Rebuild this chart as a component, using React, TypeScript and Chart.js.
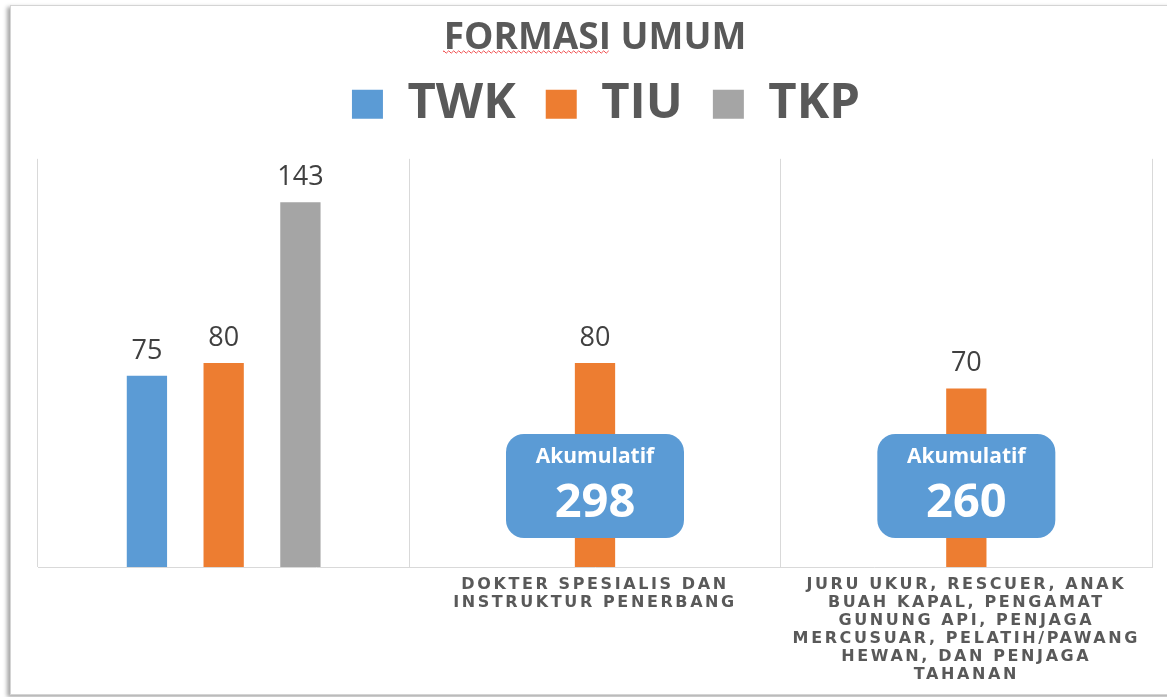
import React, { useEffect, useRef } from 'react';
import { Chart, registerables, CategoryScale } from 'chart.js';

class SpacedCategoryScale extends CategoryScale {
  static id = 'spacedCategory';
  drawLabels(chartArea: any) {
    const ctx = this.ctx as any;
    ctx.save();
    ctx.letterSpacing = '2.6px';
    super.drawLabels(chartArea);
    ctx.restore();
  }
}

Chart.register(...registerables, SpacedCategoryScale);

// ---- data ----
const chartTitle = 'FORMASI UMUM';
const categories: string[][] = [
  [''],
  ['DOKTER SPESIALIS DAN', 'INSTRUKTUR PENERBANG'],
  [
    'JURU UKUR, RESCUER, ANAK',
    'BUAH KAPAL, PENGAMAT',
    'GUNUNG API, PENJAGA',
    'MERCUSUAR, PELATIH/PAWANG',
    'HEWAN, DAN PENJAGA',
    'TAHANAN',
  ],
];
const seriesNames = ['TWK', 'TIU', 'TKP'];
const twkValues = [75, null, null];
const tiuValues = [80, 80, 70];
const tkpValues = [143, null, null];
const akumulatifValues = [null, 298, 260];
const akumulatifText = 'Akumulatif';
const yMin = 0;
const yMax = 160;

const COLORS = ['#5B9BD5', '#ED7D31', '#A5A5A5'];

const legendSpacing = {
  id: 'legendSpacing',
  beforeInit(chart: any) {
    const legend = chart.legend;
    if (!legend) return;
    const fit = legend.fit;
    legend.fit = function () {
      fit.call(this);
      this.height += 20;
      if (this.lineWidths && this.lineWidths.length) this.lineWidths[0] -= 22;
    };
  },
};

const barValueLabels = {
  id: 'barValueLabels',
  afterDatasetsDraw(chart: any) {
    const ctx = chart.ctx;
    ctx.save();
    ctx.font = '27px "Open Sans"';
    ctx.fillStyle = '#404040';
    ctx.textAlign = 'center';
    ctx.textBaseline = 'alphabetic';
    chart.data.datasets.forEach((ds: any, i: number) => {
      const meta = chart.getDatasetMeta(i);
      meta.data.forEach((el: any, j: number) => {
        const v = ds.data[j];
        if (v === null || v === undefined) return;
        ctx.fillText(String(v), el.x, el.y - 17);
      });
    });
    ctx.restore();
  },
};

const akumulatifBoxes = {
  id: 'akumulatifBoxes',
  afterDatasetsDraw(chart: any) {
    const ctx = chart.ctx;
    const xs = chart.scales.x;
    const area = chart.chartArea;
    ctx.save();
    akumulatifValues.forEach((v, j) => {
      if (v === null) return;
      const cx = xs.getPixelForValue(j);
      const cy = area.bottom - 81;
      const w = 178;
      const h = 104;
      const r = 18;
      ctx.beginPath();
      (ctx as any).roundRect(cx - w / 2, cy - h / 2, w, h, r);
      ctx.fillStyle = '#5B9BD5';
      ctx.fill();
      ctx.fillStyle = '#FFFFFF';
      ctx.textAlign = 'center';
      ctx.textBaseline = 'middle';
      ctx.font = 'bold 21px "Open Sans"';
      ctx.fillText(akumulatifText, cx, cy - 29);
      ctx.font = 'bold 47px "Open Sans"';
      ctx.fillText(String(v), cx, cy + 18);
    });
    ctx.restore();
  },
};

const spellSquiggle = {
  id: 'spellSquiggle',
  afterDraw(chart: any) {
    const tb = chart.titleBlock;
    if (!tb) return;
    const ctx = chart.ctx;
    ctx.save();
    ctx.font = 'bold 37px "Open Sans"';
    const total = ctx.measureText(chartTitle).width;
    const first = ctx.measureText(chartTitle.split(' ')[0]).width;
    const start = (tb.left + tb.right) / 2 - total / 2;
    const end = start + first;
    const y = 52;
    ctx.strokeStyle = '#F05050';
    ctx.lineWidth = 1;
    ctx.beginPath();
    let up = true;
    ctx.moveTo(start, y);
    for (let x = start; x <= end; x += 2.5) {
      ctx.lineTo(x, up ? y - 1.2 : y + 1.2);
      up = !up;
    }
    ctx.stroke();
    ctx.restore();
  },
};

export default function App() {
  const canvasRef = useRef<HTMLCanvasElement | null>(null);

  useEffect(() => {
    if (!canvasRef.current) return;
    const chart = new Chart(canvasRef.current, {
      type: 'bar',
      data: {
        labels: categories as any,
        datasets: [
          { label: seriesNames[0], data: twkValues as any, backgroundColor: COLORS[0], borderWidth: 0 },
          { label: seriesNames[1], data: tiuValues as any, backgroundColor: COLORS[1], borderWidth: 0 },
          { label: seriesNames[2], data: tkpValues as any, backgroundColor: COLORS[2], borderWidth: 0 },
        ],
      },
      options: {
        animation: false,
        responsive: true,
        maintainAspectRatio: false,
        layout: { padding: { left: 38, right: 15, top: 0, bottom: 4 } },
        datasets: { bar: { categoryPercentage: 0.62, barPercentage: 0.525 } } as any,
        plugins: {
          title: {
            display: true,
            text: chartTitle,
            color: '#595959',
            font: { family: 'Open Sans', size: 37, weight: 'bold', lineHeight: 0.05 },
            padding: { top: 38, bottom: 10 },
          },
          legend: {
            display: true,
            position: 'top',
            labels: {
              boxWidth: 31,
              boxHeight: 29,
              padding: 30,
              color: '#595959',
              font: { family: 'Open Sans', size: 49, weight: 'bold' },
            },
          },
          tooltip: { enabled: false },
        },
        scales: {
          x: {
            type: 'spacedCategory' as any,
            offset: true,
            grid: { display: true, offset: true, color: '#D9D9D9', drawTicks: false, lineWidth: 1 },
            border: { display: true, color: '#D9D9D9' },
            ticks: {
              autoSkip: false,
              maxRotation: 0,
              minRotation: 0,
              padding: 9,
              color: '#595959',
              font: { family: 'DejaVu Sans', size: 16, weight: 'bold', lineHeight: '18px' },
            },
          } as any,
          y: { display: false, min: yMin, max: yMax },
        },
      },
      plugins: [legendSpacing, barValueLabels, akumulatifBoxes, spellSquiggle],
    });
    return () => chart.destroy();
  }, []);

  return (
    <div style={{ position: 'fixed', left: 0, top: 0, width: 1167, height: 697, overflow: 'hidden', background: '#fff' }}>
      <div
        style={{
          position: 'absolute',
          left: 10,
          top: 5,
          width: 1190,
          height: 688,
          border: '1px solid #D4D4D4',
          boxShadow: '-3px 2px 4px rgba(0,0,0,0.35)',
          background: '#fff',
        }}
      />
      <div style={{ position: 'absolute', left: 0, top: 0, width: 1167, height: 697 }}>
        <canvas ref={canvasRef} />
      </div>
    </div>
  );
}
